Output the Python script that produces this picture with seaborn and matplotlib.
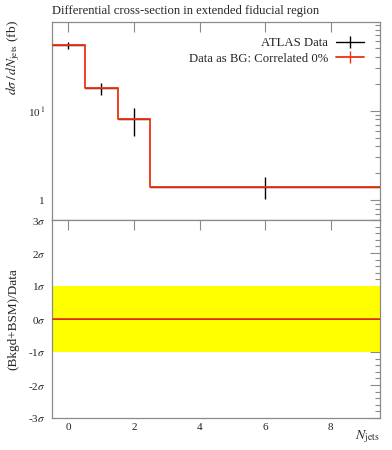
import matplotlib
matplotlib.use("Agg")
import matplotlib.pyplot as plt
import matplotlib.ticker as mticker
from matplotlib.lines import Line2D
import seaborn as sns
import pandas as pd
import numpy as np

# ---- data ----
bin_edges = [-0.5, 0.5, 1.5, 2.5, 9.5]
bin_centers = [0, 1, 2, 6]
data_values = [53.6, 17.9, 8.06, 1.42]
data_err_up = [4.5, 2.5, 2.6, 0.40]
data_err_dn = [4.5, 2.9, 2.8, 0.39]
mc_values = [53.6, 17.9, 8.06, 1.42]
ratio_band = [-1.0, 1.0]
ratio_ticks = [-3, -2, -1, 0, 1, 2, 3]
ratio_labels = ["-3$\\sigma$", "-2$\\sigma$", "-1$\\sigma$", "0$\\sigma$", "1$\\sigma$", "2$\\sigma$", "3$\\sigma$"]
x_ticks = [0, 2, 4, 6, 8]

sns.set_theme(style="white")
plt.rcParams["font.family"] = ["Liberation Serif", "DejaVu Serif"]
plt.rcParams["mathtext.fontset"] = "stix"

RED = "#EE3311"
SPINE = "#8a8a8a"

fig = plt.figure(figsize=(3.92, 4.5), dpi=100)
ax = fig.add_axes([52/392, 1-220/450, 328/392, 198/450])
axr = fig.add_axes([52/392, 1-418/450, 328/392, 198/450])

left = np.array(bin_edges[:-1]); right = np.array(bin_edges[1:])
xc = np.array(bin_centers)
xerr = [xc - left, right - xc]

# data
ax.errorbar(bin_centers, data_values, yerr=[data_err_dn, data_err_up], xerr=xerr,
            fmt="none", ecolor="black", elinewidth=1.0, capsize=0, zorder=2)

# MC step histogram
step_df = pd.DataFrame({"x": bin_edges, "y": mc_values + [mc_values[-1]]})
sns.lineplot(data=step_df, x="x", y="y", ax=ax, color=RED, lw=1.3,
             drawstyle="steps-post", estimator=None, sort=False, zorder=3)

ax.set_yscale("log")
ax.set_xlim(-0.5, 9.5)
ax.set_ylim(0.6, 98)
ax.yaxis.set_major_locator(mticker.FixedLocator([1, 10]))
ax.yaxis.set_major_formatter(mticker.FixedFormatter(["1", "10$^{\\,1}$"]))
ax.yaxis.set_minor_locator(mticker.LogLocator(base=10, subs=np.arange(2, 10)))
ax.yaxis.set_minor_formatter(mticker.NullFormatter())
ax.set_xticks(x_ticks)
ax.tick_params(axis="x", labelbottom=False)
ax.set_xlabel("")
ax.set_ylabel("")
fig.text(13/392, 1-20/450, "$d\\sigma\\,/\\,dN_{\\mathrm{jets}}$ (fb)", rotation=90,
         ha="center", va="top", fontsize=9.7)

ax.set_title("Differential cross-section in extended fiducial region",
             loc="left", fontsize=9.1, pad=6)

handles = [Line2D([0], [0], color="black", lw=1.0, marker="|", markersize=9, markeredgewidth=1.0),
           Line2D([0], [0], color=RED, lw=1.3, marker="|", markersize=9, markeredgewidth=1.0)]
ax.legend(handles, ["ATLAS Data", "Data as BG: Correlated 0%"], loc="upper right",
          bbox_to_anchor=(1 - 11/328, 1 - 10/198), frameon=False, markerfirst=False,
          fontsize=9.2, handlelength=2.2, borderaxespad=0.0, labelspacing=0.3,
          handletextpad=0.6)

# ratio panel
axr.fill_between([bin_edges[0], bin_edges[-1]], ratio_band[0], ratio_band[1],
                 color="#ffff00", lw=0, zorder=1)
zero_df = pd.DataFrame({"x": [bin_edges[0], bin_edges[-1]], "y": [0, 0]})
sns.lineplot(data=zero_df, x="x", y="y", ax=axr, color="black", lw=0.6, estimator=None, zorder=2)
sns.lineplot(data=zero_df, x="x", y="y", ax=axr, color=RED, lw=1.2, estimator=None, zorder=3)
axr.set_xlim(-0.5, 9.5)
axr.set_ylim(-3, 3)
axr.set_yticks(ratio_ticks)
axr.set_yticklabels(ratio_labels)
axr.yaxis.set_minor_locator(mticker.MultipleLocator(0.2))
axr.set_xticks(x_ticks)
axr.set_xticklabels([str(t) for t in x_ticks])
axr.set_ylabel("(Bkgd+BSM)/Data", fontsize=9.5)
axr.set_xlabel("$N_{\\mathrm{jets}}$", fontsize=10, loc="right")

for a in (ax, axr):
    for s in a.spines.values():
        s.set_color(SPINE)
        s.set_linewidth(0.9)
    a.tick_params(which="both", direction="in", top=True, right=True,
                  color=SPINE, labelsize=8, labelcolor="#222222", width=0.8)
    a.tick_params(which="major", length=7)
    a.tick_params(which="minor", length=3.5)
    a.tick_params(axis="y", pad=5)
axr.yaxis.set_label_coords(-0.10, 0.5)
axr.xaxis.label.set_verticalalignment("center")
axr.xaxis.set_label_coords(1.0, -0.095)

fig.savefig("out.png", dpi=100)
